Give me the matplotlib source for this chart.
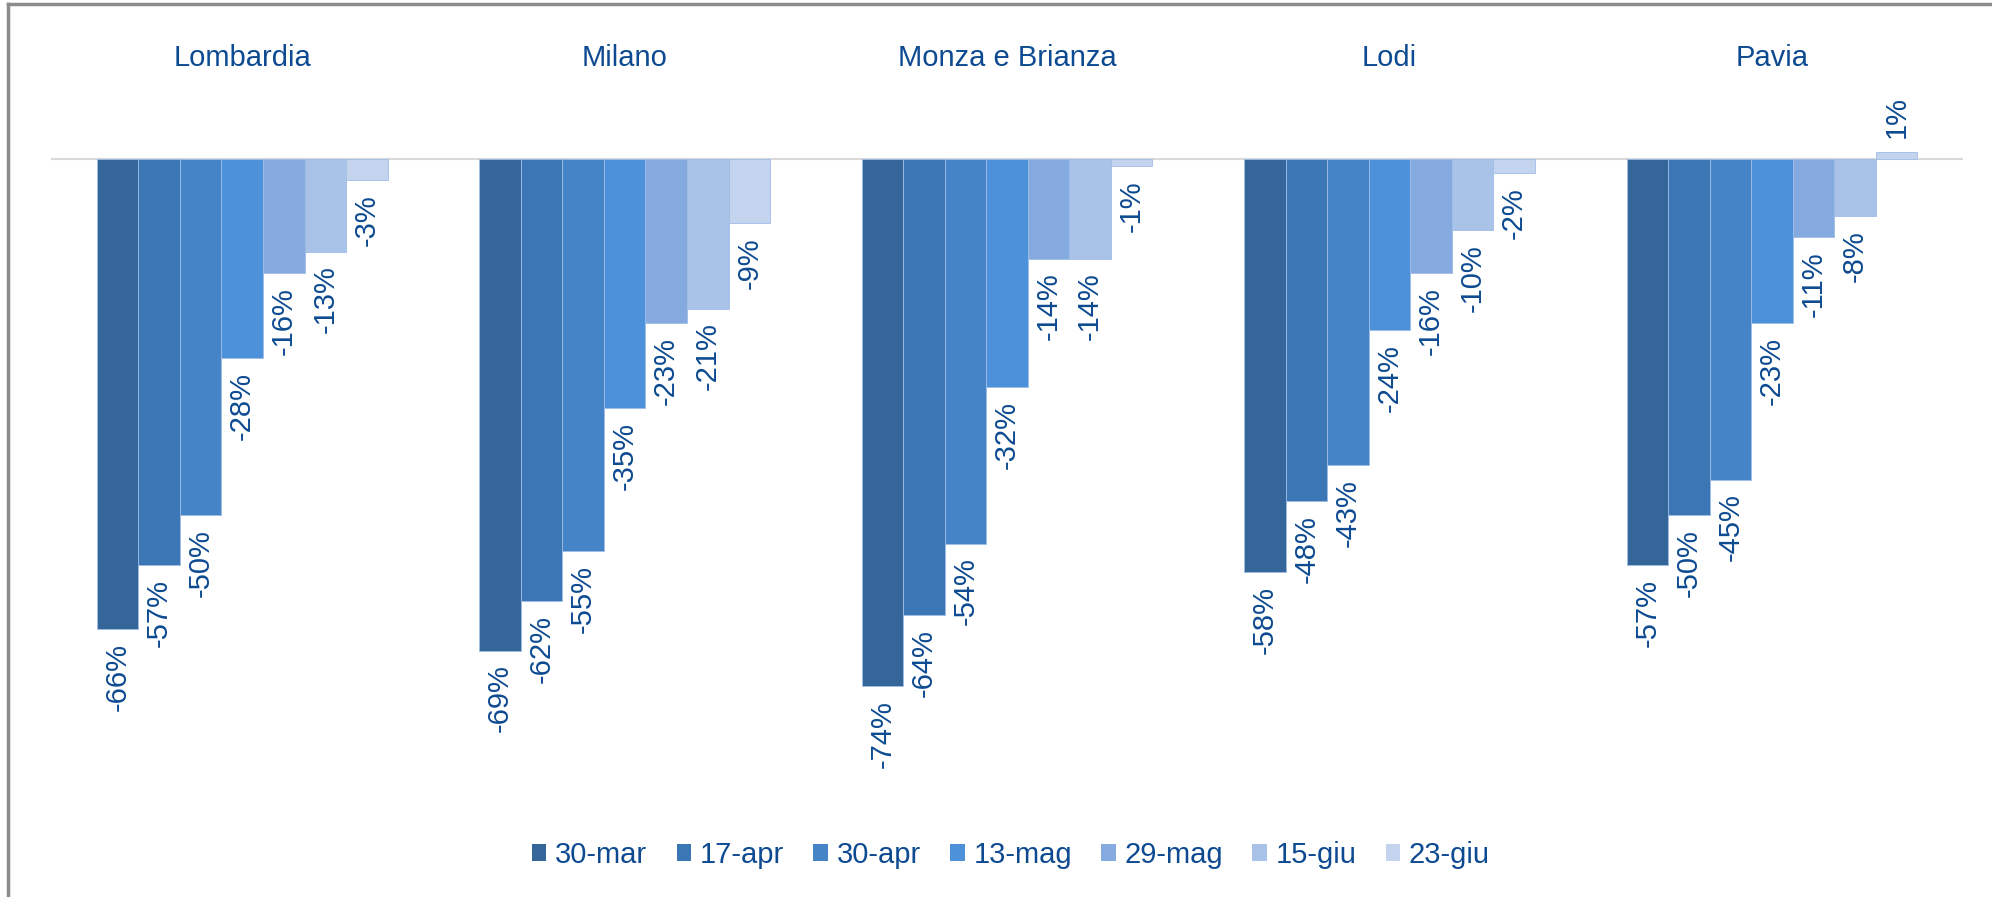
import matplotlib
matplotlib.use("Agg")
import matplotlib.pyplot as plt
import numpy as np
from matplotlib.patches import Patch

plt.rcParams['font.family'] = ['Liberation Sans', 'DejaVu Sans']

areas = ["Lombardia", "Milano", "Monza e Brianza", "Lodi", "Pavia"]
dates = ["30-mar", "17-apr", "30-apr", "13-mag", "29-mag", "15-giu", "23-giu"]
v_30mar = [-66, -69, -74, -58, -57]
v_17apr = [-57, -62, -64, -48, -50]
v_30apr = [-50, -55, -54, -43, -45]
v_13mag = [-28, -35, -32, -24, -23]
v_29mag = [-16, -23, -14, -16, -11]
v_15giu = [-13, -21, -14, -10, -8]
v_23giu = [-3, -9, -1, -2, 1]
series = [v_30mar, v_17apr, v_30apr, v_13mag, v_29mag, v_15giu, v_23giu]
colors = ["#346699", "#3B77B4", "#4484C7", "#4C91D9", "#84AAE0", "#A9C3E8", "#C5D4EE"]
text_color = "#0D4A91"
fs = 21

fig = plt.figure(figsize=(19.92, 8.97), dpi=100)
ax = fig.add_axes([0.0256, 0.108, 0.96, 0.864])

n = len(series)
width = 0.76 / n
x = np.arange(len(areas))
for i, (vals, col) in enumerate(zip(series, colors)):
    pos = x - 0.38 + width * (i + 0.5)
    ax.bar(pos, vals, width=width, color=col, edgecolor="#9FBDE6",
           linewidth=0.6, label=dates[i], zorder=3)
    for xp, v in zip(pos, vals):
        if v < 0:
            ax.annotate(f"{v}%", (xp, v), xytext=(0, -10), textcoords="offset points",
                        rotation=90, ha="center", va="top", fontsize=fs, color=text_color)
        else:
            ax.annotate(f"{v}%", (xp, v), xytext=(0, 10), textcoords="offset points",
                        rotation=90, ha="center", va="bottom", fontsize=fs, color=text_color)

for xi, name in zip(x, areas):
    ax.text(xi, 14.2, name, ha="center", va="center", fontsize=fs, color=text_color)

ax.axhline(0, color="#D9D9D9", linewidth=1.5, zorder=2)
ax.set_xlim(-0.5, 4.5)
ax.set_ylim(-90, 18.8)
ax.axis("off")

handles = [Patch(facecolor=c, edgecolor="none") for c in colors]
leg = fig.legend(handles, dates, loc="center", bbox_to_anchor=(0.5075, 0.047), ncol=7,
                 frameon=False, fontsize=fs, handlelength=0.5, handleheight=0.5,
                 handletextpad=0.3, columnspacing=1.0)
for t in leg.get_texts():
    t.set_color(text_color)

# figure border (left and top)
fig.add_artist(plt.Line2D([0.0038, 0.0038], [0, 0.995], transform=fig.transFigure,
                          color="#8C8C8C", linewidth=2.5))
fig.add_artist(plt.Line2D([0.0038, 1.0], [0.995, 0.995], transform=fig.transFigure,
                          color="#8C8C8C", linewidth=2.5))

fig.savefig("out.png", dpi=100, facecolor="white")
